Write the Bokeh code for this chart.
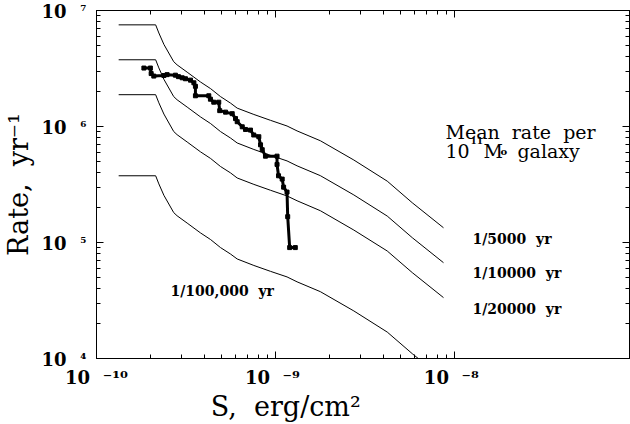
from bokeh.plotting import figure
from bokeh.models import LogAxis, FixedTicker, CustomJSTickFormatter, Label
from bokeh.embed import file_html
from bokeh.resources import INLINE

# ---- data ----
S_model = [1.33e-10, 2.14e-10, 2.23e-10, 2.38e-10, 2.70e-10, 2.82e-10, 3.21e-10, 3.81e-10,
           4.34e-10, 4.93e-10, 5.61e-10, 6.11e-10, 7.57e-10, 9.38e-10, 1.16e-9, 1.32e-9,
           1.78e-9, 2.74e-9, 4.21e-9, 5.81e-9, 8.68e-9]
rate_5000 = [7.52e6, 7.52e6, 6.4e6, 5.1e6, 3.62e6, 3.4e6, 2.94e6, 2.42e6, 2.12e6, 1.81e6, 1.59e6,
             1.44e6, 1.27e6, 1.13e6, 1.01e6, 9.16e5, 7.54e5, 5.14e5, 3.38e5, 2.2e5, 1.34e5]
rate_10000 = [3.76e6, 3.76e6, 3.2e6, 2.55e6, 1.81e6, 1.70e6, 1.47e6, 1.21e6, 1.06e6, 9.04e5, 7.95e5,
              7.21e5, 6.34e5, 5.64e5, 5.05e5, 4.58e5, 3.77e5, 2.57e5, 1.69e5, 1.10e5, 6.7e4]
rate_20000 = [1.88e6, 1.88e6, 1.60e6, 1.28e6, 9.05e5, 8.5e5, 7.35e5, 6.05e5, 5.3e5, 4.52e5, 3.98e5,
              3.6e5, 3.17e5, 2.82e5, 2.52e5, 2.29e5, 1.88e5, 1.28e5, 8.45e4, 5.5e4, 3.35e4]
rate_100000 = [3.76e5, 3.76e5, 3.20e5, 2.55e5, 1.81e5, 1.70e5, 1.47e5, 1.21e5, 1.06e5, 9.04e4, 7.95e4,
               7.21e4, 6.34e4, 5.64e4, 5.05e4, 4.58e4, 3.77e4, 2.57e4, 1.69e4, 1.10e4, 6.7e3]

data_S = [1.84e-10, 2.00e-10, 2.02e-10, 2.09e-10, 2.38e-10, 2.48e-10, 2.76e-10, 2.87e-10, 3.01e-10, 3.14e-10,
          3.35e-10, 3.50e-10, 3.57e-10, 3.57e-10, 4.24e-10, 4.33e-10, 4.52e-10, 4.82e-10, 4.88e-10, 5.26e-10,
          5.73e-10, 5.98e-10, 6.11e-10, 6.52e-10, 6.80e-10, 7.25e-10, 7.56e-10, 8.07e-10, 8.25e-10, 8.43e-10,
          8.79e-10, 1.02e-9, 1.02e-9, 1.04e-9, 1.09e-9, 1.11e-9, 1.16e-9, 1.17e-9, 1.20e-9, 1.29e-9]
data_R = [3.19e6, 3.19e6, 2.86e6, 2.72e6, 2.75e6, 2.80e6, 2.77e6, 2.69e6, 2.63e6, 2.58e6,
          2.51e6, 2.38e6, 2.22e6, 1.84e6, 1.84e6, 1.72e6, 1.62e6, 1.62e6, 1.37e6, 1.33e6,
          1.29e6, 1.17e6, 1.10e6, 9.94e5, 9.43e5, 9.31e5, 8.45e5, 8.16e5, 6.95e5, 6.31e5,
          5.55e5, 5.55e5, 4.71e5, 3.76e5, 3.52e5, 3.00e5, 2.72e5, 1.67e5, 9.04e4, 9.04e4]

x_major = [-10, -9, -8]
y_major = [4, 5, 6, 7]
curve_labels = ["1/5000\u00a0\u00a0yr", "1/10000\u00a0\u00a0yr", "1/20000\u00a0\u00a0yr"]
curve_label_y = [1.08e5, 5.42e4, 2.69e4]
x_title = "S,\u00a0\u00a0erg/cm\u00b2"
y_title = "Rate,\u00a0\u00a0yr\u207b\u00b9"

FONT = "DejaVu Serif"

p = figure(width=630, height=424, x_axis_type="log", y_axis_type="log",
           x_range=(1e-10, 9.5e-8), y_range=(1e4, 1e7),
           output_backend="svg", toolbar_location=None,
           min_border_left=96, min_border_right=1, min_border_top=10, min_border_bottom=59)
p.background_fill_color = "white"
p.border_fill_color = "white"
p.outline_line_color = "black"
p.outline_line_width = 1
p.xgrid.visible = False
p.ygrid.visible = False

SUP = """const sup = {"-":"\\u207b","0":"\\u2070","1":"\\u00b9","2":"\\u00b2","3":"\\u00b3",
"4":"\\u2074","5":"\\u2075","6":"\\u2076","7":"\\u2077","8":"\\u2078","9":"\\u2079"};
const e = Math.round(Math.log10(tick));
const s = String(e).split("").map(c => sup[c]).join("");
"""
x_fmt = CustomJSTickFormatter(code=SUP + """
const pad = (s.length < 3) ? "\\u00a0" : "";
return "10\\u00a0\\u00a0" + s + pad;""")
y_exp_fmt = CustomJSTickFormatter(code=SUP + "return s;")
y_base_fmt = CustomJSTickFormatter(code="return '10';")
empty = CustomJSTickFormatter(code="return ''")

xt = FixedTicker(ticks=[10.0 ** e for e in x_major],
                 minor_ticks=[k * 10.0 ** e for e in x_major[:-1] for k in range(2, 10)])
yt = FixedTicker(ticks=[10.0 ** e for e in y_major],
                 minor_ticks=[k * 10.0 ** e for e in y_major[:-1] for k in range(2, 10)])


def style(ax, ticker, fmt, standoff, size="18px"):
    ax.ticker = ticker
    ax.formatter = fmt
    ax.major_tick_in = 7
    ax.major_tick_out = 0
    ax.minor_tick_in = 4
    ax.minor_tick_out = 0
    ax.axis_line_color = "black"
    ax.major_tick_line_color = "black"
    ax.minor_tick_line_color = "black"
    ax.major_label_standoff = standoff
    ax.major_label_text_font = FONT
    ax.major_label_text_font_style = "bold"
    ax.major_label_text_font_size = size
    ax.major_label_text_color = "black"
    ax.axis_label_text_font = FONT
    ax.axis_label_text_font_style = "normal"
    ax.axis_label_text_color = "black"


style(p.xaxis[0], xt, x_fmt, 8)
p.xaxis[0].axis_label = x_title + "\u00a0" * 18
p.xaxis[0].axis_label_text_font_size = "27px"
p.xaxis[0].axis_label_standoff = 0

# inner left axis: ticks + exponents
style(p.yaxis[0], yt, y_exp_fmt, 10, "14px")
# outer left axis: the "10" bases and the title
outer = LogAxis()
style(outer, yt, y_base_fmt, 11)
outer.axis_line_color = None
outer.major_tick_line_color = None
outer.minor_tick_line_color = None
outer.axis_label = y_title
outer.axis_label_text_font_size = "27px"
outer.axis_label_standoff = 4
p.add_layout(outer, "left")

top = LogAxis()
style(top, xt, empty, 0, "1px")
p.add_layout(top, "above")
right = LogAxis()
style(right, yt, empty, 0, "1px")
p.add_layout(right, "right")

# model curves
for r in (rate_5000, rate_10000, rate_20000, rate_100000):
    p.line(S_model, r, line_color="black", line_width=1)

# observed cumulative rate
p.line(data_S, data_R, line_color="black", line_width=3)
p.scatter(data_S, data_R, marker="square", size=4, color="black")


def lab(**kw):
    d = dict(text_font=FONT, text_color="black")
    d.update(kw)
    p.add_layout(Label(**d))


# curve annotations
for t, yv in zip(curve_labels, curve_label_y):
    lab(x=1.26e-8, y=yv, text=t, text_align="left", text_baseline="middle",
        text_font_size="14px", text_font_style="bold")
lab(x=2.59e-10, y=3.79e4, text="1/100,000\u00a0\u00a0yr", text_align="left", text_baseline="middle",
    text_font_size="14px", text_font_style="bold")

# note
lab(x=8.9e-9, y=7.93e5, y_offset=6, text="Mean\u00a0\u00a0rate\u00a0\u00a0per", text_align="left",
    text_baseline="alphabetic", text_font_size="19px")
lab(x=8.9e-9, y=5.58e5, y_offset=5, text="10", text_align="left", text_baseline="alphabetic",
    text_font_size="19px")
lab(x=8.9e-9, y=5.58e5, text="11", x_offset=25, y_offset=15, text_align="left",
    text_baseline="alphabetic", text_font_size="9px", text_font_style="bold")
lab(x=8.9e-9, y=5.58e5, text="M", x_offset=38, y_offset=5, text_align="left", text_baseline="alphabetic",
    text_font_size="19px")
lab(x=8.9e-9, y=5.58e5, text="o", x_offset=55, y_offset=4, text_align="left",
    text_baseline="alphabetic", text_font_size="10px", text_font_style="bold")
lab(x=8.9e-9, y=5.58e5, text="galaxy", x_offset=72, y_offset=5, text_align="left",
    text_baseline="alphabetic", text_font_size="19px")

open("out.html", "w").write(file_html(p, INLINE))
